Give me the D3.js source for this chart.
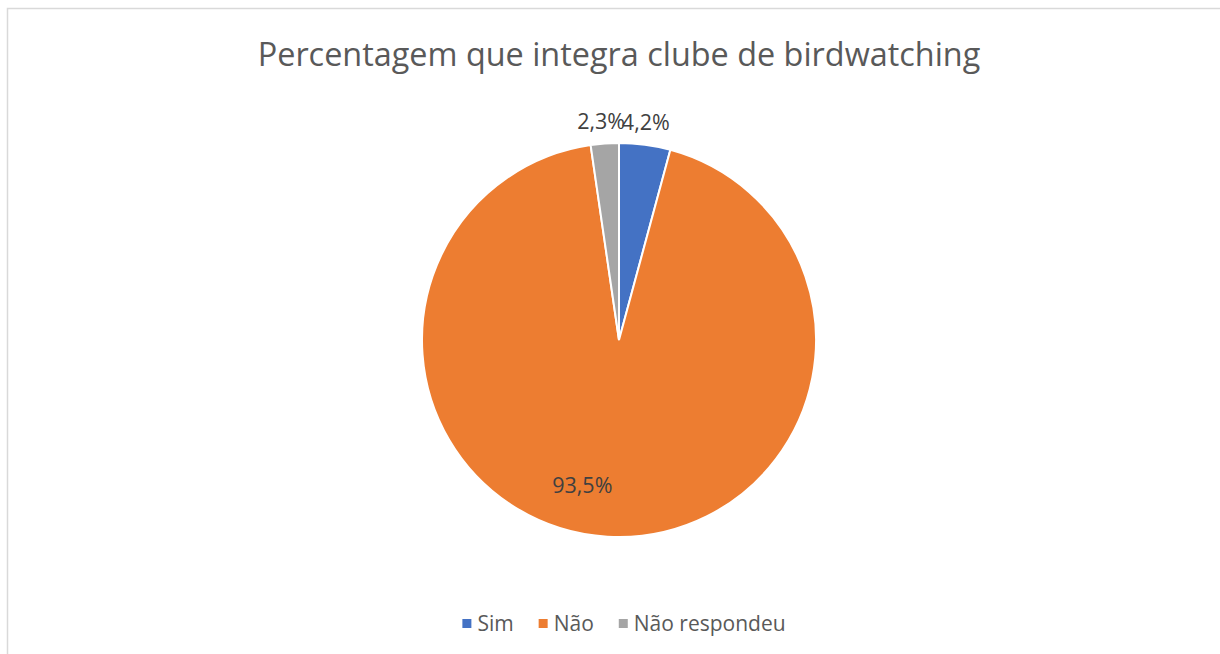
<!DOCTYPE html>
<html>
<head>
<meta charset="utf-8">
<script src="https://cdn.jsdelivr.net/npm/d3@7"></script>
<style>
  body { margin: 0; background: #fff; }
  svg { display: block; }
</style>
</head>
<body>
<div id="chart"></div>
<script>
// chart data
var categories = ["Sim", "Não", "Não respondeu"];
var values     = [4.2, 93.5, 2.3];
var colors     = ["#4472c4", "#ed7d31", "#a5a5a5"];
var title      = "Percentagem que integra clube de birdwatching";

var width  = 1220,
    height = 654,
    cx     = 619,
    cy     = 340,
    radius = 197;

var svg = d3.select("#chart").append("svg")
            .attr("width", width)
            .attr("height", height)
            .style("font-family", "'Open Sans', 'Noto Sans', sans-serif");

// chart area border
svg.append("rect")
   .attr("x", 7.5)
   .attr("y", 8.5)
   .attr("width", width)
   .attr("height", height)
   .attr("fill", "none")
   .attr("stroke", "#d9d9d9")
   .attr("stroke-width", 1.5);

svg.append("text")
   .attr("x", cx)
   .attr("y", 66)
   .attr("text-anchor", "middle")
   .attr("font-size", 32.4)
   .attr("fill", "#595959")
   .text(title);

var data = categories.map(function(c, i){ return {name: c, value: values[i], color: colors[i]}; });

var pie = d3.pie().sort(null).value(function(d){ return d.value; });
var arcs = pie(data);

var arc      = d3.arc().innerRadius(0).outerRadius(radius);
var outArc   = d3.arc().innerRadius(radius + 22).outerRadius(radius + 22);
var innerArc = d3.arc().innerRadius(radius * 0.74).outerRadius(radius * 0.74);

var g = svg.append("g").attr("transform", "translate(" + cx + "," + cy + ")");

g.selectAll("path.slice")
 .data(arcs)
 .enter()
 .append("path")
 .attr("class", "slice")
 .attr("d", arc)
 .attr("fill", function(d){ return d.data.color; })
 .attr("stroke", "#fff")
 .attr("stroke-width", 2);

function fmt(v){ return v.toFixed(1).replace(".", ",") + "%"; }

g.selectAll("text.lbl")
 .data(arcs)
 .enter()
 .append("text")
 .attr("class", "lbl")
 .attr("transform", function(d){
     var big = (d.endAngle - d.startAngle) > Math.PI;
     var p = big ? innerArc.centroid(d) : outArc.centroid(d);
     if (big) p[0] -= 28;
     else p[0] -= 2;
     return "translate(" + p + ")";
 })
 .attr("text-anchor", "middle")
 .attr("dy", "0.35em")
 .attr("font-size", 21.5)
 .attr("fill", "#404040")
 .text(function(d){ return fmt(d.data.value); });

// legend
var legend = svg.append("g");
var items = [];
var lx = 0;
categories.forEach(function(c, i){
    var item = legend.append("g").attr("transform", "translate(" + lx + ",624)");
    item.append("rect")
        .attr("x", 0).attr("y", -5)
        .attr("width", 9).attr("height", 9)
        .attr("fill", colors[i]);
    var t = item.append("text")
        .attr("x", 15)
        .attr("dy", "0.35em")
        .attr("font-size", 21)
        .attr("fill", "#595959")
        .text(c);
    lx += 15 + t.node().getComputedTextLength() + 25;
});
var legW = lx - 25;
legend.attr("transform", "translate(" + (624 - legW / 2) + ",0)");
</script>
</body>
</html>
